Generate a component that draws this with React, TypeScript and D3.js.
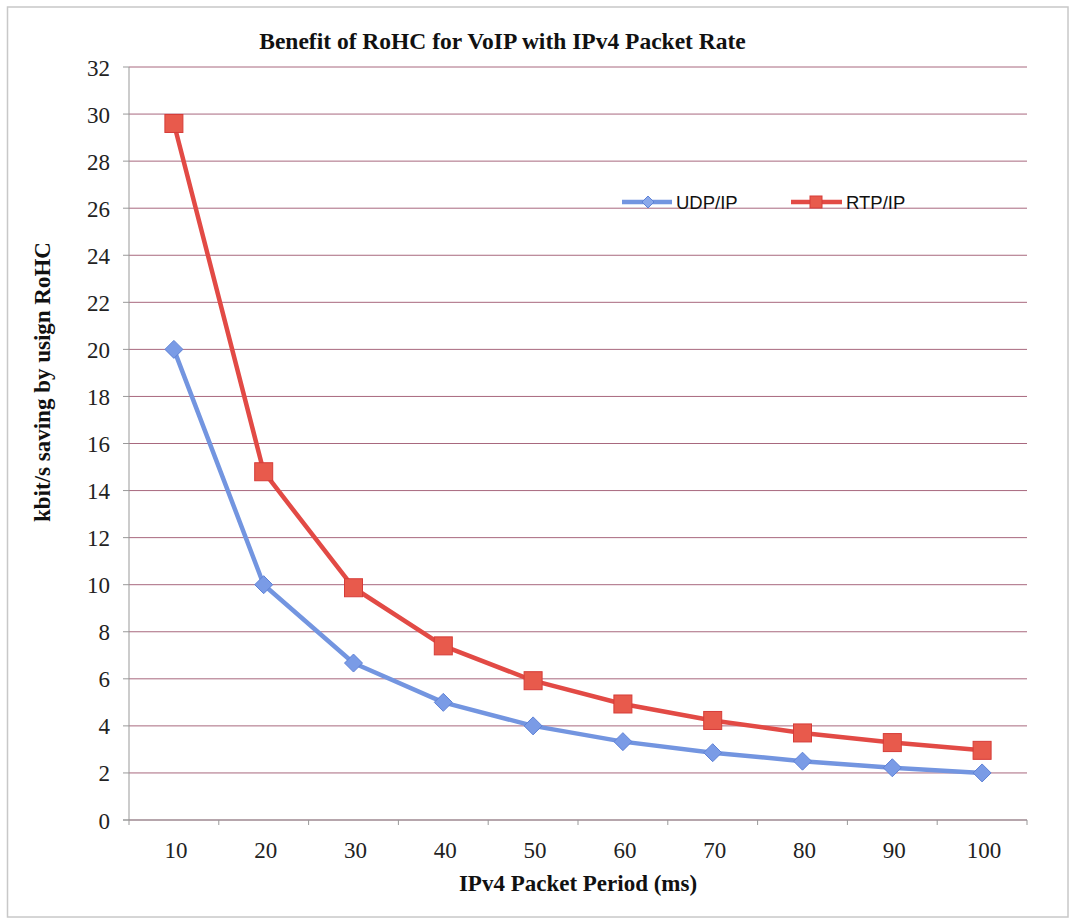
import React from "react";
import * as d3 from "d3";

const periods = ["10", "20", "30", "40", "50", "60", "70", "80", "90", "100"];
const udpIp = [20, 10, 6.67, 5, 4, 3.33, 2.86, 2.5, 2.22, 2];
const rtpIp = [29.6, 14.8, 9.87, 7.4, 5.92, 4.93, 4.23, 3.7, 3.29, 2.96];
const yTicks = d3.range(0, 33, 2);

const W = 1074;
const H = 921;
const left = 129;
const right = 1027;
const top = 67;
const bottom = 820;

export default function App() {
  const x = d3.scaleBand<string>().domain(periods).range([left, right]);
  const y = d3.scaleLinear().domain([0, 32]).range([bottom, top]);
  const cx = (p: string) => (x(p) as number) + x.bandwidth() / 2;

  const line = d3
    .line<number>()
    .x((_, i) => cx(periods[i]))
    .y((v) => y(v));

  const blue = "#7395e0";
  const red = "#e24a45";
  const serif = "'Liberation Serif', 'Times New Roman', serif";
  const sans = "'Liberation Sans', Arial, sans-serif";

  const diamond = (px: number, py: number, r: number) =>
    `M${px},${py - r}L${px + r},${py}L${px},${py + r}L${px - r},${py}Z`;

  const boundaries = [...periods.map((p) => x(p) as number), right];

  return (
    <svg
      width={W}
      height={H}
      style={{ position: "absolute", left: 0, top: 0, background: "#fff" }}
    >
      <rect x={7.5} y={7} width={1060.5} height={910} fill="#fff" stroke="#c8c8c8" strokeWidth={1.5} />

      <text x={502.5} y={49} textAnchor="middle" fontFamily={serif} fontWeight="bold" fontSize={23.5} fill="#111">
        Benefit of RoHC for VoIP with IPv4 Packet Rate
      </text>

      {/* horizontal gridlines */}
      {yTicks.map((t) => (
        <line key={t} x1={left} x2={right} y1={y(t)} y2={y(t)} stroke="#a8687e" strokeWidth={1} />
      ))}

      {/* y axis */}
      <line x1={left} x2={left} y1={top} y2={bottom} stroke="#999" strokeWidth={1} />
      {yTicks.map((t) => (
        <g key={"yt" + t}>
          <line x1={left - 6} x2={left} y1={y(t)} y2={y(t)} stroke="#999" />
          <text x={110} y={y(t) + 8.5} textAnchor="end" fontFamily={serif} fontSize={23} fill="#222">
            {t}
          </text>
        </g>
      ))}

      {/* x axis */}
      <line x1={left - 6} x2={right} y1={bottom} y2={bottom} stroke="#999" strokeWidth={1} />
      {boundaries.map((b, i) => (
        <line key={"xt" + i} x1={b} x2={b} y1={bottom} y2={bottom + 5} stroke="#999" />
      ))}
      {periods.map((p) => (
        <text key={"xl" + p} x={cx(p) + 2} y={858} textAnchor="middle" fontFamily={serif} fontSize={23} fill="#222">
          {p}
        </text>
      ))}

      <text x={578} y={891} textAnchor="middle" fontFamily={serif} fontWeight="bold" fontSize={23} fill="#111">
        IPv4 Packet Period (ms)
      </text>
      <text
        transform={`translate(50,382) rotate(-90)`}
        textAnchor="middle"
        fontFamily={serif}
        fontWeight="bold"
        fontSize={23}
        fill="#111"
      >
        kbit/s saving by usign RoHC
      </text>

      {/* series */}
      <path d={line(udpIp) as string} fill="none" stroke={blue} strokeWidth={4.5} strokeLinejoin="round" />
      <path d={line(rtpIp) as string} fill="none" stroke={red} strokeWidth={4.5} strokeLinejoin="round" />

      {udpIp.map((v, i) => (
        <path key={"u" + i} d={diamond(cx(periods[i]), y(v), 9)} fill="#7a9be6" stroke="#5f82d6" strokeWidth={1} />
      ))}
      {rtpIp.map((v, i) => (
        <rect
          key={"r" + i}
          x={cx(periods[i]) - 9}
          y={y(v) - 9}
          width={18}
          height={18}
          fill="#e85a4c"
          stroke="#d63c38"
          strokeWidth={1}
        />
      ))}

      {/* legend */}
      <line x1={622} x2={672} y1={202} y2={202} stroke={blue} strokeWidth={4.5} />
      <path d={diamond(648, 202, 6)} fill="#8aa8ea" stroke="#5f82d6" strokeWidth={1} />
      <text x={676} y={209} fontFamily={sans} fontSize={18.5} fill="#111">
        UDP/IP
      </text>
      <line x1={791} x2={842} y1={202} y2={202} stroke={red} strokeWidth={4.5} />
      <rect x={810} y={196} width={12} height={12} fill="#e85a4c" stroke="#d63c38" strokeWidth={1} />
      <text x={846} y={209} fontFamily={sans} fontSize={18.5} fill="#111">
        RTP/IP
      </text>
    </svg>
  );
}
